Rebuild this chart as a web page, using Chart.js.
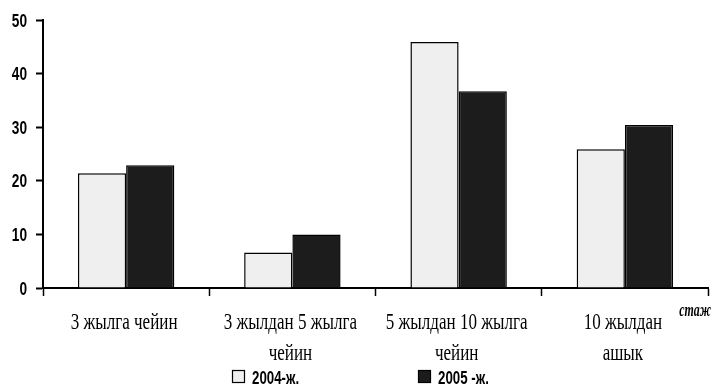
<!DOCTYPE html>
<html><head><meta charset="utf-8">
<script src="https://cdn.jsdelivr.net/npm/chart.js@4.4.1/dist/chart.umd.min.js"></script>
<style>html,body{margin:0;padding:0;background:#fff}#wrap{width:712px;height:392px}</style>
</head><body><div id="wrap"><canvas id="c" width="712" height="392"></canvas></div>
<script>
const categories = [["3 жылга чейин"], ["3 жылдан 5 жылга", "чейин"], ["5 жылдан 10 жылга", "чейин"], ["10 жылдан", "ашык"]];
const series2004 = [21.4, 6.6, 45.9, 25.9];
const series2005 = [22.9, 10.0, 36.7, 30.4];
const seriesNames = ["2004-ж.", "2005 -ж."];
const axisTitle = "стаж";
const yTicks = [0, 10, 20, 30, 40, 50];

const LIGHT = '#efefef', DARK = '#1c1c1c';
const serif = "'Liberation Serif', 'DejaVu Serif', serif";
const sans = "'Liberation Sans', 'DejaVu Sans', sans-serif";

// draw horizontally condensed text
function condText(ctx, text, x, y, font, sx, align) {
  ctx.save();
  ctx.font = font;
  ctx.textBaseline = 'alphabetic';
  ctx.textAlign = 'left';
  const w = ctx.measureText(text).width * sx;
  let left = x;
  if (align === 'center') left = x - w / 2;
  else if (align === 'right') left = x - w;
  ctx.translate(left, y);
  ctx.scale(sx, 1);
  ctx.fillStyle = '#000';
  ctx.fillText(text, 0, 0);
  ctx.restore();
}

const extras = {
  id: 'extras',
  afterDraw(chart) {
    const ctx = chart.ctx;
    const xs = chart.scales.x, ys = chart.scales.y;
    // y tick labels
    yTicks.forEach(v => {
      condText(ctx, String(v), 27, ys.getPixelForValue(v) + 6.5, "bold 19px " + sans, 0.72, 'right');
    });
    // x category labels
    chart.data.labels.forEach((lab, i) => {
      const cx = xs.getPixelForValue(i) - 2;
      lab.forEach((line, j) => {
        condText(ctx, line, cx, 329 + j * 31, "24px " + serif, 0.71, 'center');
      });
    });
    // axis title
    condText(ctx, axisTitle, 711, 316, "italic bold 18px " + serif, 0.66, 'right');
    // legend
    const items = [{x: 232, c: LIGHT, t: seriesNames[0]}, {x: 418, c: DARK, t: seriesNames[1]}];
    items.forEach(it => {
      ctx.save();
      ctx.fillStyle = it.c;
      ctx.fillRect(it.x, 370, 13, 13);
      ctx.strokeStyle = '#000';
      ctx.lineWidth = 1.2;
      ctx.strokeRect(it.x + 0.5, 370.5, 12, 12);
      ctx.restore();
      condText(ctx, it.t, it.x + 20, 384, "bold 19px " + sans, 0.7, 'left');
    });
  }
};

new Chart(document.getElementById('c'), {
  type: 'bar',
  data: {
    labels: categories,
    datasets: [
      {label: seriesNames[0], data: series2004, backgroundColor: LIGHT, borderColor: '#000', borderWidth: 1.5, barPercentage: 1, categoryPercentage: 0.58},
      {label: seriesNames[1], data: series2005, backgroundColor: DARK, borderColor: '#000', borderWidth: 1.5, barPercentage: 1, categoryPercentage: 0.58}
    ]
  },
  options: {
    responsive: false,
    animation: false,
    devicePixelRatio: 1,
    layout: {padding: {top: 20, right: 4, left: 0, bottom: 0}},
    plugins: {legend: {display: false}, tooltip: {enabled: false}},
    scales: {
      x: {
        grid: {display: true, drawOnChartArea: false, drawTicks: true, tickLength: 8, tickColor: '#000', tickWidth: 1.5, offset: true},
        border: {display: true, color: '#000', width: 2},
        ticks: {display: false, maxRotation: 0, autoSkip: false},
        afterFit(s) { s.height = 104; }
      },
      y: {
        min: 0, max: 50,
        afterBuildTicks(s) { s.ticks = yTicks.map(v => ({value: v})); },
        grid: {display: true, drawOnChartArea: false, drawTicks: true, tickLength: 7, tickColor: '#000', tickWidth: 2},
        border: {display: true, color: '#000', width: 2},
        ticks: {display: false},
        afterFit(s) { s.width = 43; }
      }
    }
  },
  plugins: [extras]
});
</script></body></html>
